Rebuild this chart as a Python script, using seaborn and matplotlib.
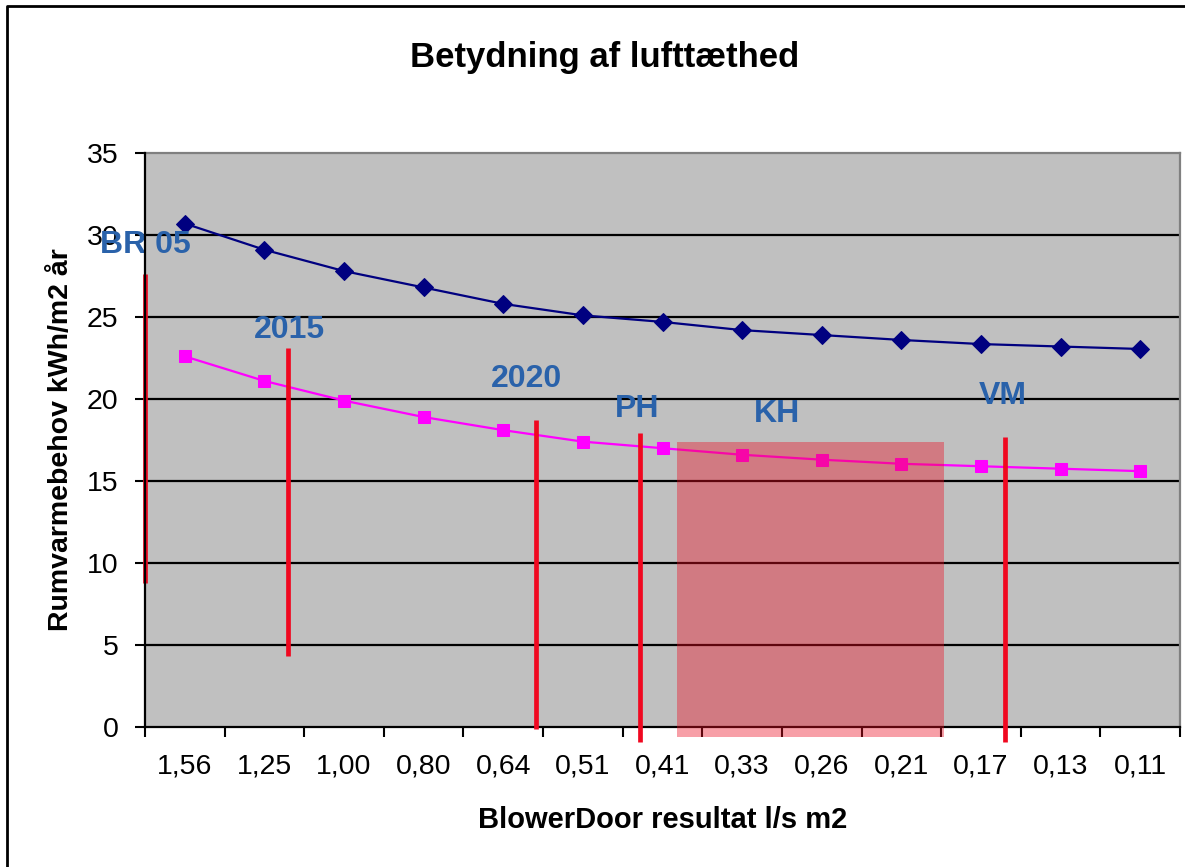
import matplotlib
matplotlib.use("Agg")
import matplotlib.pyplot as plt
from matplotlib.lines import Line2D
from matplotlib.patches import Rectangle
import seaborn as sns
import pandas as pd

# ---- data ----
categories = ["1,56", "1,25", "1,00", "0,80", "0,64", "0,51", "0,41",
              "0,33", "0,26", "0,21", "0,17", "0,13", "0,11"]
series_upper = [30.7, 29.1, 27.8, 26.8, 25.8, 25.1, 24.7, 24.2, 23.9, 23.6, 23.35, 23.2, 23.05]
series_lower = [22.6, 21.1, 19.9, 18.9, 18.1, 17.4, 17.0, 16.6, 16.3, 16.05, 15.9, 15.75, 15.6]
yticks = [0, 5, 10, 15, 20, 25, 30, 35]

# annotation markers (category-axis position, y range)
ann_labels = ["BR 05", "2015", "2020", "PH", "VM"]
ann_x = [-0.5, 1.30, 4.41, 5.72, 10.30]
ann_ymin = [8.8, 4.3, -0.1, -0.9, -0.9]
ann_ymax = [27.6, 23.1, 18.7, 17.9, 17.7]
label_x = [-0.5, 1.31, 4.29, 5.68, 10.27]
label_y = [29.4, 24.2, 21.2, 19.4, 20.2]
kh_label = "KH"
kh_x = [6.18, 9.53]
kh_y = [-0.6, 17.4]
kh_label_pos = (7.44, 19.1)

title = "Betydning af lufttæthed"
xlabel = "BlowerDoor resultat l/s m2"
ylabel = "Rumvarmebehov kWh/m2 år"

sns.set_theme(style="white")
plt.rcParams['font.family'] = ['Liberation Sans', 'DejaVu Sans']

fig = plt.figure(figsize=(11.85, 8.67), dpi=100)
ax = fig.add_axes([145/1185, 1-727/867, 1035/1185, 574/867])
ax.set_facecolor("#C0C0C0")

pos = list(range(len(categories)))
df = pd.DataFrame({"x": pos, "upper": series_upper, "lower": series_lower})

for yv in yticks[1:-1]:
    ax.axhline(yv, color="black", lw=1.6, zorder=1)

sns.lineplot(data=df, x="x", y="upper", ax=ax, color="#000080", marker="D",
             markersize=9, markeredgecolor="#000080", lw=1.6, zorder=4)
sns.lineplot(data=df, x="x", y="lower", ax=ax, color="#FF00FF", marker="s",
             markersize=9, markeredgecolor="#FF00FF", lw=1.6, zorder=4)

ax.set_xlim(-0.5, len(categories) - 0.5)
ax.set_ylim(0, 35)

# KH box
ax.add_patch(Rectangle((kh_x[0], kh_y[0]), kh_x[1] - kh_x[0], kh_y[1] - kh_y[0],
                       facecolor=(237/255, 17/255, 37/255), alpha=0.4,
                       edgecolor="none", clip_on=False, zorder=5))

lab_color = "#2A62AA"
for xv, y0, y1 in zip(ann_x, ann_ymin, ann_ymax):
    ax.plot([xv, xv], [y0, y1], color="#F00820", lw=3.4, clip_on=False,
            solid_capstyle="butt", zorder=6)
for t, xv, yv in zip(ann_labels, label_x, label_y):
    ax.text(xv, yv, t, color=lab_color, fontsize=23, fontweight="bold",
            ha="center", va="center", clip_on=False, zorder=7)
ax.text(kh_label_pos[0], kh_label_pos[1], kh_label, color=lab_color, fontsize=23,
        fontweight="bold", ha="center", va="center", zorder=7)

# axes styling
ax.set_xticks([p - 0.5 for p in pos] + [len(categories) - 0.5])
ax.set_xticklabels([])
ax.set_xticks(pos, minor=True)
ax.set_xticklabels(categories, minor=True)
ax.tick_params(axis="x", which="major", direction="out", length=7, width=1.5,
               color="black", bottom=True)
ax.tick_params(axis="x", which="minor", length=0, pad=19, labelsize=20.5,
               labelcolor="black")
ax.set_yticks(yticks)
ax.set_yticklabels([str(v) for v in yticks])
ax.tick_params(axis="y", direction="out", length=7, width=1.5, color="black",
               left=True, pad=12, labelsize=20.5, labelcolor="black")

for side in ["left", "bottom"]:
    ax.spines[side].set_color("black")
    ax.spines[side].set_linewidth(1.6)
ax.spines["top"].set_color("#808080")
ax.spines["top"].set_linewidth(1.6)
ax.spines["right"].set_color("#808080")
ax.spines["right"].set_linewidth(1.6)
ax.spines["left"].set_zorder(8)

ax.set_xlabel(xlabel, fontsize=21, fontweight="bold", color="black", va="center")
ax.set_ylabel(ylabel, fontsize=20.5, fontweight="bold", color="black", va="center")
ax.xaxis.set_label_coords(0.5, (727 - 820) / 574)
ax.yaxis.set_label_coords((61 - 145) / 1035, 0.5)

fig.text(605/1185, 1 - 58/867, title, fontsize=25, fontweight="bold",
         ha="center", va="center", color="black")

# outer chart border (left and top visible)
fig.add_artist(Line2D([7/1185, 7/1185, 1.0], [0.0, 1 - 6/867, 1 - 6/867],
                      transform=fig.transFigure, color="black", lw=2))

fig.savefig("out.png", dpi=100)
